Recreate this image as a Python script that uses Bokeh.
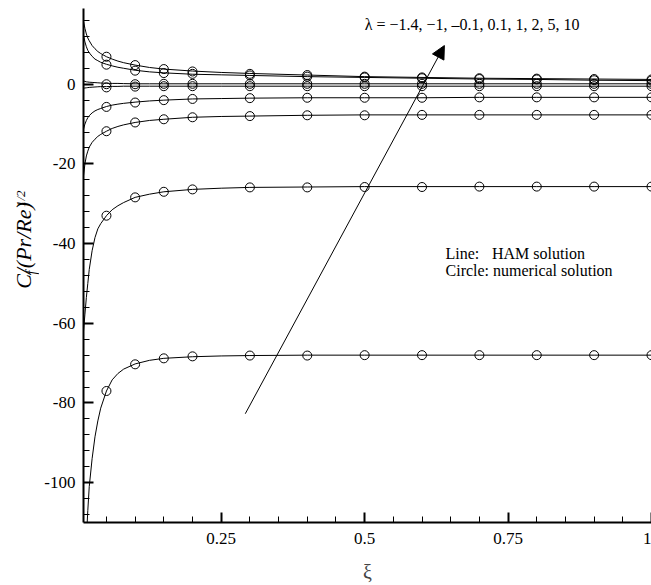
import math
from bokeh.plotting import figure
from bokeh.layouts import row
from bokeh.models import Label, Arrow, NormalHead, FixedTicker, Range1d
from bokeh.core.properties import value
from bokeh.embed import file_html
from bokeh.resources import INLINE

# ---------------- data ----------------
lambdas = ["-1.4", "-1", "-0.1", "0.1", "1", "2", "5", "10"]

ham_xi = [0.01, 0.0125, 0.015, 0.0175, 0.02, 0.025, 0.03, 0.035, 0.04,
          0.05, 0.06, 0.07, 0.08, 0.1, 0.125, 0.15, 0.2, 0.25, 0.3,
          0.4, 0.5, 0.6, 0.7, 0.8, 0.9, 1.0]
ham_m14 = [-138, -125, -114, -107, -101, -94, -88.5, -84.5, -81.3,
           -77, -74.2, -72.6, -71.5, -70.2, -69.3, -68.8, -68.4, -68.2, -68.1,
           -68.0, -68.0, -68.0, -68.0, -68.0, -68.0, -68.0]
ham_m1 = [-62, -57.7, -53.5, -50, -46.5, -41.8, -38.5, -36.3, -35,
          -33, -31.5, -30.5, -29.7, -28.4, -27.6, -27.0, -26.4, -26.1, -25.9,
          -25.8, -25.7, -25.7, -25.7, -25.7, -25.7, -25.7]
ham_m01 = [-23, -20, -18, -16.8, -15.8, -14.6, -13.8, -13.1, -12.6,
           -11.8, -11.1, -10.6, -10.2, -9.6, -9.1, -8.8, -8.3, -8.1, -8.0,
           -7.8, -7.7, -7.7, -7.7, -7.7, -7.7, -7.7]
ham_01 = [-11.3, -10.0, -9.1, -8.4, -7.9, -7.2, -6.7, -6.35, -6.1,
          -5.6, -5.25, -5.0, -4.8, -4.5, -4.2, -4.0, -3.7, -3.6, -3.5,
          -3.4, -3.4, -3.4, -3.3, -3.3, -3.3, -3.3]
ham_1 = [-1.0, -0.95, -0.9, -0.85, -0.8, -0.75, -0.7, -0.65, -0.6,
         -0.6, -0.55, -0.55, -0.5, -0.5, -0.5, -0.5, -0.5, -0.5, -0.5,
         -0.5, -0.5, -0.5, -0.5, -0.5, -0.5, -0.5]
ham_2 = [0.8, 0.7, 0.6, 0.55, 0.5, 0.45, 0.4, 0.35, 0.3,
         0.25, 0.2, 0.2, 0.15, 0.1, 0.1, 0.1, 0.1, 0.1, 0.1,
         0.1, 0.1, 0.1, 0.1, 0.1, 0.1, 0.1]
ham_5 = [12.3, 10.6, 9.4, 8.5, 7.9, 7.0, 6.3, 5.9, 5.5,
         5.0, 4.6, 4.25, 4.0, 3.5, 3.1, 2.85, 2.5, 2.35, 2.2,
         1.9, 1.7, 1.5, 1.3, 1.2, 1.0, 0.9]
ham_10 = [15.8, 14.0, 12.6, 11.6, 10.9, 9.7, 8.9, 8.2, 7.7,
          6.9, 6.3, 5.8, 5.4, 4.8, 4.2, 3.8, 3.3, 2.95, 2.7,
          2.3, 1.9, 1.7, 1.5, 1.4, 1.3, 1.2]

num_xi = [0.05, 0.1, 0.15, 0.2, 0.3, 0.4, 0.5, 0.6, 0.7, 0.8, 0.9, 1.0]
num_m14 = [-77.0, -70.3, -68.8, -68.3, -68.1, -68.1, -68.0, -68.0, -68.0, -68.0, -68.0, -68.0]
num_m1 = [-33.0, -28.4, -27.0, -26.4, -25.9, -25.9, -25.8, -25.8, -25.7, -25.7, -25.7, -25.7]
num_m01 = [-11.8, -9.6, -8.8, -8.3, -8.0, -7.8, -7.8, -7.7, -7.7, -7.7, -7.7, -7.7]
num_01 = [-5.7, -4.6, -4.0, -3.7, -3.5, -3.4, -3.4, -3.4, -3.3, -3.3, -3.3, -3.3]
num_1 = [-0.8, -0.6, -0.5, -0.5, -0.5, -0.5, -0.5, -0.5, -0.5, -0.5, -0.5, -0.5]
num_2 = [0.0, 0.0, 0.1, 0.1, 0.1, 0.1, 0.1, 0.1, 0.1, 0.1, 0.1, 0.1]
num_5 = [4.9, 3.4, 2.8, 2.6, 2.2, 1.9, 1.7, 1.5, 1.3, 1.2, 1.0, 0.9]
num_10 = [6.9, 4.8, 3.8, 3.2, 2.6, 2.3, 1.9, 1.7, 1.5, 1.4, 1.3, 1.2]

ham_series = [ham_m14, ham_m1, ham_m01, ham_01, ham_1, ham_2, ham_5, ham_10]
num_series = [num_m14, num_m1, num_m01, num_01, num_1, num_2, num_5, num_10]

x_ticks = [0.25, 0.5, 0.75, 1.0]
x_tick_labels = ["0.25", "0.5", "0.75", "1"]
y_ticks = [-100, -80, -60, -40, -20, 0]
y_tick_labels = ["-100", "-80", "-60", "-40", "-20", "0"]

arrow_xi = [0.292, 0.639]
arrow_cf = [-82.7, 9.7]

lambda_text = "\u03bb = \u22121.4, \u22121, \u20130.1, 0.1, 1, 2, 5, 10"

# ---------------- layout ----------------
X0, X1 = 0.01, 1.0
Y0, Y1 = -110.0, 19.0
LW = 39                 # width of the strip holding the y-axis title
FL, FT, FW, FH = 44, 8, 568, 514   # frame position inside main canvas
W, H = FL + FW, 585

SERIF = "Liberation Serif"

# strip with the composed, rotated y-axis title (pixel coordinates, y up)
lab = figure(width=LW, height=H, output_backend="svg", toolbar_location=None,
             x_range=Range1d(0, LW), y_range=Range1d(0, H),
             x_axis_location=None, y_axis_location=None,
             min_border=0, min_border_left=0, min_border_right=0,
             min_border_top=0, min_border_bottom=0)
lab.grid.visible = False
lab.outline_line_color = None
lab.background_fill_color = "white"
lab.border_fill_color = "white"

pieces = [
    # text, centre along the text (page y), centre across (page x), size
    ("C", 310.5, 23.0, "22px"),
    ("f", 300.5, 30.5, "14px"),
    ("/(Pr/Re)", 261.5, 23.0, "22px"),
    ("1/2", 216.5, 20.0, "13px"),
]
for txt, py, px, size in pieces:
    lab.text(x=[px], y=[H - py], text=[txt], angle=math.pi / 2,
             text_font=value(SERIF), text_font_style="italic",
             text_font_size=size, text_align="center",
             text_baseline="middle", text_color="black")

p = figure(width=W, height=H, output_backend="svg", toolbar_location=None,
           x_range=Range1d(X0, X1), y_range=Range1d(Y0, Y1),
           min_border_left=FL, min_border_right=0, min_border_top=FT,
           min_border_bottom=H - FH - FT)
p.outline_line_color = None
p.grid.visible = False
p.background_fill_color = "white"
p.border_fill_color = "white"

for ys in ham_series:
    p.line(ham_xi, ys, line_color="black", line_width=1)
for ys in num_series:
    p.scatter(num_xi, ys, marker="circle", size=9, line_color="black",
              line_width=1, fill_alpha=0)

minor_x = [round(0.05 * i, 2) for i in range(1, 21)]
minor_y = [-108 + 4 * i for i in range(0, 32)]

for ax, ticks, labels, minor in ((p.xaxis[0], x_ticks, x_tick_labels, minor_x),
                                 (p.yaxis[0], y_ticks, y_tick_labels, minor_y)):
    ax.ticker = FixedTicker(ticks=ticks, minor_ticks=minor)
    ax.major_label_overrides = {t: l for t, l in zip(ticks, labels)}
    ax.axis_line_width = 2
    ax.axis_line_color = "black"
    ax.major_tick_in = 10
    ax.major_tick_out = 0
    ax.minor_tick_in = 6
    ax.minor_tick_out = 0
    ax.major_tick_line_width = 2
    ax.minor_tick_line_width = 1
    ax.major_label_text_font = SERIF
    ax.major_label_text_font_size = "17px"
    ax.major_label_text_color = "black"
    ax.major_label_standoff = 10
p.yaxis[0].major_label_standoff = 8

p.xaxis.axis_label = "\u03be"
p.xaxis.axis_label_text_font = SERIF
p.xaxis.axis_label_text_font_style = "normal"
p.xaxis.axis_label_text_font_size = "20px"
p.xaxis.axis_label_standoff = 14

p.add_layout(Arrow(x_start=arrow_xi[0], y_start=arrow_cf[0],
                   x_end=arrow_xi[1], y_end=arrow_cf[1],
                   line_color="black", line_width=1,
                   end=NormalHead(size=13, fill_color="black", line_color="black")))

p.add_layout(Label(x=0.500, y=15.0, text=lambda_text, text_font=SERIF,
                   text_font_size="16px", text_baseline="middle",
                   text_align="left", text_color="black"))
p.add_layout(Label(x=0.641, y=-42.5, text="Line:", text_font=SERIF,
                   text_font_size="16px", text_baseline="middle",
                   text_align="left", text_color="black"))
p.add_layout(Label(x=0.722, y=-42.5, text="HAM solution", text_font=SERIF,
                   text_font_size="16px", text_baseline="middle",
                   text_align="left", text_color="black"))
p.add_layout(Label(x=0.641, y=-46.8, text="Circle: numerical solution",
                   text_font=SERIF, text_font_size="16px",
                   text_baseline="middle", text_align="left",
                   text_color="black"))

layout = row(lab, p, spacing=0)
open("out.html", "w").write(file_html(layout, INLINE))
